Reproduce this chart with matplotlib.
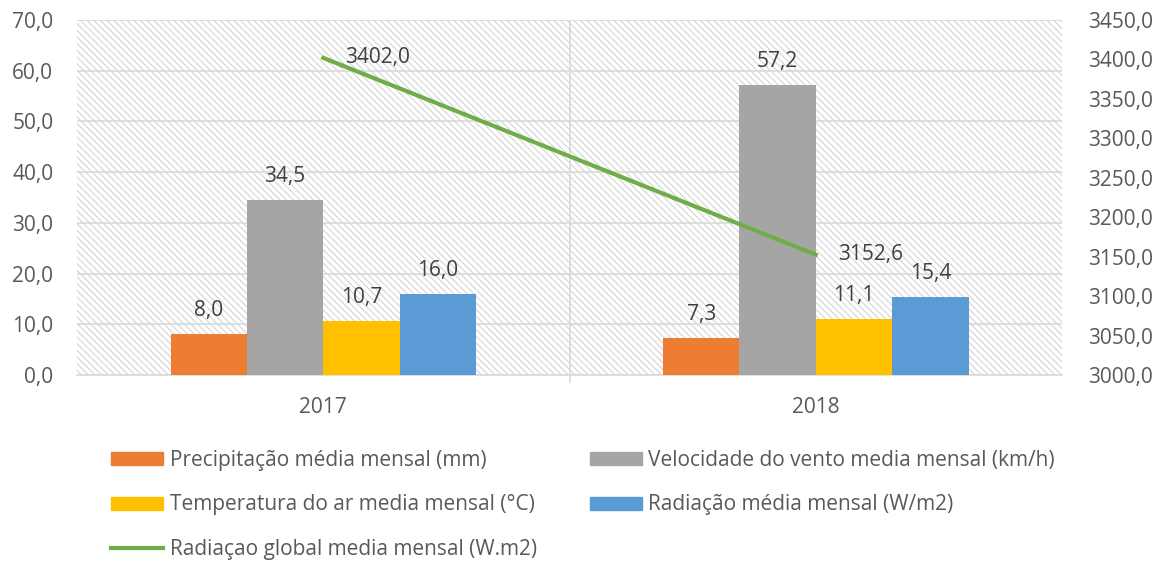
import matplotlib.pyplot as plt
import numpy as np
from matplotlib.patches import Patch
from matplotlib.lines import Line2D

plt.rcParams['font.family'] = ['Open Sans', 'DejaVu Sans']
plt.rcParams['hatch.color'] = '#d4d4d4'
plt.rcParams['hatch.linewidth'] = 0.8

# === Data ===
years = ["2017", "2018"]
precipitacao = [8.0, 7.3]
vento = [34.5, 57.2]
temperatura = [10.7, 11.1]
radiacao = [16.0, 15.4]
radiacao_global = [3402.0, 3152.6]

series = [
    ("Precipitação média mensal (mm)", precipitacao, "#ed7d31"),
    ("Velocidade do vento media mensal (km/h)", vento, "#a5a5a5"),
    ("Temperatura do ar media mensal (°C)", temperatura, "#ffc000"),
    ("Radiação média mensal (W/m2)", radiacao, "#5b9bd5"),
]
line_label = "Radiaçao global media mensal (W.m2)"
line_color = "#70ad47"
label_color = "#404040"
tick_color = "#595959"
grid_color = "#d9d9d9"

def fmt(v):
    return f"{v:.1f}".replace(".", ",")

fig = plt.figure(figsize=(11.59, 5.62), dpi=100)
ax = fig.add_axes([0.0664, 0.3327, 0.85, 0.6317])
ax.patch.set_facecolor("white")
ax.patch.set_hatch("\\\\\\\\\\")
ax.patch.set_edgecolor("#d4d4d4")

x = np.arange(len(years))
width = 0.155
offsets = (np.arange(len(series)) - 1.5) * width

for (name, vals, color), off in zip(series, offsets):
    bars = ax.bar(x + off, vals, width, color=color, zorder=3)
    for b, v in zip(bars, vals):
        ax.annotate(fmt(v), (b.get_x() + b.get_width() / 2, v), xytext=(0, 17),
                    textcoords="offset points", ha="center", va="center",
                    fontsize=15, color=label_color)

ax.set_xlim(-0.5, 1.5)
ax.set_ylim(0, 70)
ax.set_yticks(np.arange(0, 71, 10))
ax.set_yticklabels([fmt(v) for v in np.arange(0, 71, 10)])
ax.set_xticks(x)
ax.set_xticklabels(years)
ax.yaxis.grid(True, color=grid_color, linewidth=1.2, zorder=1)
ax.axvline(0.5, color=grid_color, linewidth=1.2, zorder=1)
# little category tick under the divider
ax.plot([0.5, 0.5], [0, -1.4], color=grid_color, linewidth=1.2, clip_on=False)
ax.tick_params(axis="both", length=0, labelsize=15, colors=tick_color)
ax.tick_params(axis="y", pad=17)
ax.tick_params(axis="x", pad=16)
for side in ["top", "left", "right"]:
    ax.spines[side].set_visible(False)
ax.spines["bottom"].set_color(grid_color)
ax.spines["bottom"].set_linewidth(1.2)
ax.set_axisbelow(True)

ax2 = ax.twinx()
ax2.plot(x, radiacao_global, color=line_color, linewidth=3, zorder=4)
ax2.set_ylim(3000, 3450)
r_ticks = np.arange(3000, 3451, 50)
ax2.set_yticks(r_ticks)
ax2.set_yticklabels([fmt(v) for v in r_ticks])
ax2.tick_params(axis="y", length=0, labelsize=15, colors=tick_color, pad=19)
for side in ["top", "left", "right", "bottom"]:
    ax2.spines[side].set_visible(False)
for xi, v in zip(x, radiacao_global):
    ax2.annotate(fmt(v), (xi, v), xytext=(16, 0), textcoords="offset points",
                 ha="left", va="center", fontsize=15, color=label_color)

handles = [
    Patch(color=series[0][2], label=series[0][0]),
    Patch(color=series[2][2], label=series[2][0]),
    Line2D([0], [0], color=line_color, linewidth=3, label=line_label),
    Patch(color=series[1][2], label=series[1][0]),
    Patch(color=series[3][2], label=series[3][0]),
]
leg = fig.legend(handles=handles, ncol=2, loc="upper left", bbox_to_anchor=(0.096, 0.199),
                 frameon=False, fontsize=15, handlelength=2.5, handleheight=0.6,
                 columnspacing=2.55, labelspacing=1.12, handletextpad=0.3, borderpad=0,
                 borderaxespad=0)
for t in leg.get_texts():
    t.set_color(tick_color)

fig.savefig("out.png", dpi=100)
